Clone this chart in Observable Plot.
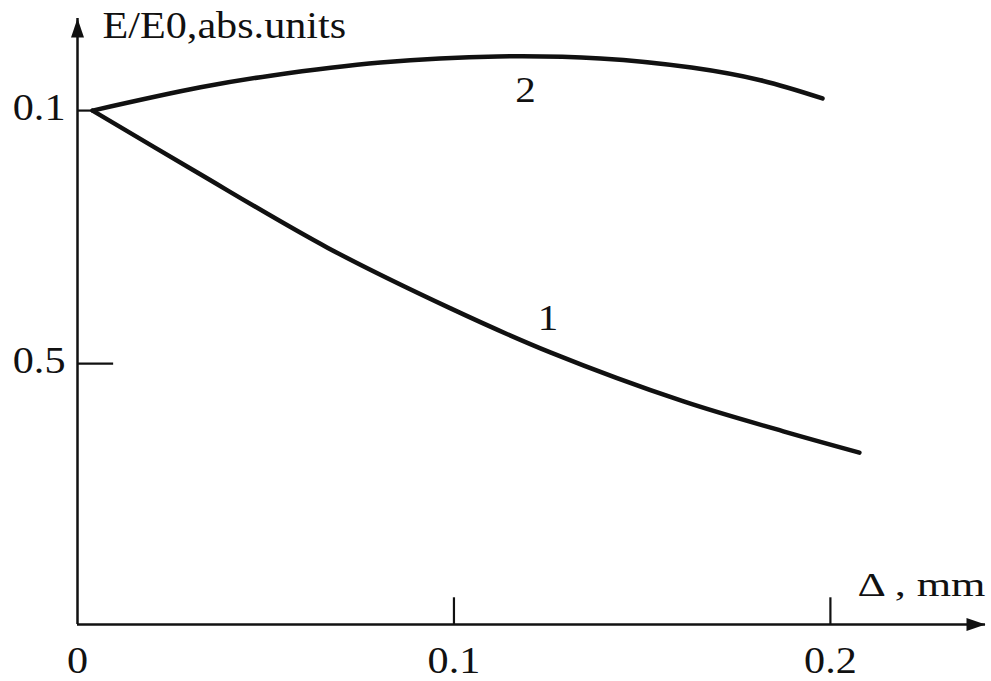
<!DOCTYPE html>
<html><head><meta charset="utf-8">
<script src="https://cdn.jsdelivr.net/npm/d3@7"></script>
<script src="https://cdn.jsdelivr.net/npm/@observablehq/plot@0.6"></script>
<style>body{margin:0;background:#fff} svg{display:block}</style>
</head><body><div id="chart"></div>
<script>
// Curve 1 (falling)
const curve1X = [0.0040, 0.0308, 0.0664, 0.0991, 0.1256, 0.1610, 0.1875, 0.2077];
const curve1Y = [1.000, 0.882, 0.729, 0.609, 0.522, 0.425, 0.366, 0.324];
// Curve 2 (rising then falling)
const curve2X = [0.0040, 0.0327, 0.0513, 0.0805, 0.1116, 0.1389, 0.1631, 0.1814, 0.1979];
const curve2Y = [1.000, 1.046, 1.069, 1.095, 1.107, 1.103, 1.085, 1.060, 1.024];
// Curve labels
const curveLabels = ["1", "2"];
const curveLabelX = [0.125, 0.119];
const curveLabelY = [0.589, 1.040];
// Axes
const xDomain = [0, 0.2412];
const yDomain = [-0.0158, 1.182];
const xTicks = [0.1, 0.2];
const xTickLabelValues = [0, 0.1, 0.2];
const xTickLabels = ["0", "0.1", "0.2"];
const yTicks = [0.5, 1.0];
const yTickLabels = ["0.5", "0.1"];
const yTickEnds = [0.0096, 0.004];
const xTickTop = 0.037;
const yTitle = "E/E0,abs.units";
const xTitle = "Δ , mm";

const c1 = curve1X.map((x, i) => ({x, y: curve1Y[i]}));
const c2 = curve2X.map((x, i) => ({x, y: curve2Y[i]}));
const labels = curveLabels.map((t, i) => ({t, x: curveLabelX[i], y: curveLabelY[i]}));
const font = "Liberation Serif, Times New Roman, serif";

const arrowHead = {
  draw(ctx) {
    ctx.moveTo(0, 0);
    ctx.lineTo(-6.5, 19);
    ctx.lineTo(6.5, 19);
    ctx.closePath();
  }
};

const chart = Plot.plot({
  width: 991,
  height: 681,
  marginLeft: 77,
  marginRight: 6,
  marginTop: 18,
  marginBottom: 57,
  x: {domain: xDomain, axis: null},
  y: {domain: yDomain, axis: null},
  style: {background: "#fff", fontFamily: font},
  marks: [
    // axis lines
    Plot.ruleX([xDomain[0]], {y1: yDomain[0], y2: yDomain[1], stroke: "#111", strokeWidth: 2.5}),
    Plot.ruleY([yDomain[0]], {x1: xDomain[0], x2: xDomain[1], stroke: "#111", strokeWidth: 2.5}),
    // arrowheads
    Plot.dot([{x: xDomain[0], y: yDomain[1]}], {x: "x", y: "y", symbol: arrowHead, fill: "#111", stroke: "none"}),
    Plot.dot([{x: xDomain[1], y: yDomain[0]}], {x: "x", y: "y", symbol: arrowHead, rotate: 90, fill: "#111", stroke: "none"}),
    // ticks
    Plot.ruleX(xTicks, {x: d => d, y1: yDomain[0], y2: xTickTop, stroke: "#111", strokeWidth: 2.2}),
    Plot.ruleY(yTicks, {y: d => d, x1: xDomain[0], x2: (d, i) => yTickEnds[i], stroke: "#111", strokeWidth: 2.2}),
    // tick labels
    Plot.text(xTickLabelValues, {x: d => d, y: yDomain[0], text: (d, i) => xTickLabels[i], dy: 37, fontSize: 37, fill: "#111"}),
    Plot.text(yTicks, {x: xDomain[0], y: d => d, text: (d, i) => yTickLabels[i], dx: -12, dy: -2, textAnchor: "end", fontSize: 37, fill: "#111"}),
    // axis titles
    Plot.text([yTitle], {x: xDomain[0], y: yDomain[1], text: d => d, dx: 25, dy: 8, textAnchor: "start", fontSize: 37, fill: "#111"}),
    Plot.text([xTitle], {x: xDomain[1], y: yDomain[0], text: d => d, dy: -39, textAnchor: "end", fontSize: 34, fill: "#111"}),
    // curves
    Plot.line(c1, {x: "x", y: "y", curve: "catmull-rom", stroke: "#111", strokeWidth: 4.5}),
    Plot.line(c2, {x: "x", y: "y", curve: "catmull-rom", stroke: "#111", strokeWidth: 4.5}),
    // curve labels
    Plot.text(labels, {x: "x", y: "y", text: "t", fontSize: 36, fill: "#111"})
  ]
});
document.getElementById("chart").appendChild(chart);
// the reference typesetting is slightly wider than Times: stretch glyphs horizontally
d3.select(chart).selectAll("text").each(function () {
  const w = this.getComputedTextLength();
  const k = this.textContent === xTitle ? 1.3 : 1.14;
  this.setAttribute("textLength", w * k);
  this.setAttribute("lengthAdjust", "spacingAndGlyphs");
});
</script>
</body></html>
